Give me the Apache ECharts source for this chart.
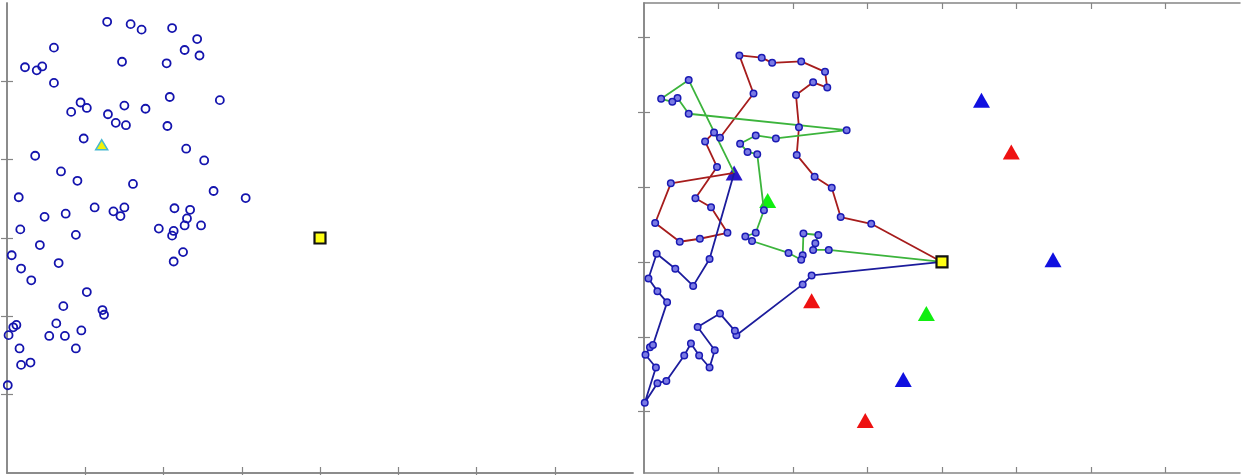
<!DOCTYPE html>
<html>
<head>
<meta charset="utf-8">
<script src="https://cdn.jsdelivr.net/npm/echarts@6/dist/echarts.min.js"></script>
<style>
  html, body { margin: 0; padding: 0; background: #ffffff; }
  #chart { width: 1242px; height: 475px; }
</style>
</head>
<body>
<div id="chart"></div>
<script>
// Depot and the common start point of the three routes
const depot = [4.0, 3.0];
const origin = [1.21, 4.19];

// Customer visits of each route, in travel order (depot -> ... -> origin)
const redRoute = [
  [3.05, 3.51], [2.64, 3.60], [2.52, 3.99], [2.29, 4.14], [2.05, 4.43],
  [2.08, 4.80], [2.04, 5.23], [2.27, 5.40], [2.46, 5.33], [2.43, 5.54],
  [2.11, 5.68], [1.72, 5.66], [1.58, 5.73], [1.28, 5.76], [1.47, 5.25],
  [1.02, 4.66], [0.94, 4.73], [0.82, 4.61], [0.98, 4.27], [0.69, 3.85],
  [0.90, 3.73], [1.12, 3.39], [0.75, 3.31], [0.48, 3.27], [0.15, 3.52],
  [0.36, 4.05]
];
const greenRoute = [
  [2.48, 3.16], [2.27, 3.16], [2.30, 3.25], [2.34, 3.36], [2.14, 3.38],
  [2.13, 3.09], [2.11, 3.03], [1.94, 3.12], [1.45, 3.28], [1.36, 3.34],
  [1.50, 3.39], [1.61, 3.69], [1.52, 4.44], [1.39, 4.47], [1.29, 4.58],
  [1.50, 4.69], [1.77, 4.65], [2.72, 4.76], [0.60, 4.98], [0.45, 5.19],
  [0.38, 5.14], [0.23, 5.18], [0.60, 5.43]
];
const blueRoute = [
  [2.25, 2.82], [2.13, 2.70], [1.24, 2.02], [1.22, 2.08], [1.02, 2.31],
  [0.72, 2.13], [0.95, 1.82], [0.88, 1.59], [0.74, 1.75], [0.63, 1.91],
  [0.54, 1.75], [0.30, 1.41], [0.18, 1.38], [0.01, 1.12], [0.16, 1.59],
  [0.02, 1.76], [0.08, 1.86], [0.12, 1.89], [0.31, 2.46], [0.18, 2.61],
  [0.06, 2.78], [0.17, 3.11], [0.42, 2.91], [0.66, 2.68], [0.88, 3.04]
];

// Target markers of each fleet
const redTargets = [[4.93, 4.47], [2.25, 2.48], [2.97, 0.88]];
const greenTargets = [[1.66, 3.82], [3.79, 2.31]];
const blueTargets = [[4.53, 5.16], [5.49, 3.03], [3.48, 1.43]];

// Axis ranges and tick positions
const xRange = [0, 8];
const yRangeLeft = [0, 6];
const yRangeRight = [0.18, 6.46];
const xTicks = [1, 2, 3, 4, 5, 6, 7];
const yTicks = [1, 2, 3, 4, 5];
const yTicksRight = [1, 2, 3, 4, 5, 6];

const customers = [].concat(redRoute, greenRoute, blueRoute);
const path = r => [depot].concat(r, [origin]);

const frame = { show: true, lineStyle: { color: '#858585', width: 1.5 } };
const tick = vals => ({ show: true, inside: true, length: 6,
  customValues: vals, lineStyle: { color: '#858585', width: 1.2 } });
const hidden = { show: false };

function xAx(grid, pos) {
  return { type: 'value', gridIndex: grid, position: pos, min: xRange[0], max: xRange[1],
    axisLine: frame, axisTick: tick(xTicks), axisLabel: hidden, splitLine: hidden };
}
function yAx(grid, pos, range, ticks) {
  return { type: 'value', gridIndex: grid, position: pos, min: range[0], max: range[1],
    axisLine: frame, axisTick: tick(ticks), axisLabel: hidden, splitLine: hidden };
}

const tri = (data, color, xi, yi) => ({
  type: 'scatter', xAxisIndex: xi, yAxisIndex: yi, data: data,
  symbol: 'triangle', symbolSize: [17, 15], z: 2,
  itemStyle: { color: color, opacity: 1 }, silent: true
});
const route = (data, color) => ({
  type: 'line', xAxisIndex: 1, yAxisIndex: 1, data: path(data),
  showSymbol: false, z: 3, animation: false,
  lineStyle: { color: color, width: 1.8 }, silent: true
});

const option = {
  animation: false,
  backgroundColor: '#ffffff',
  grid: [
    { left: 7, top: 3, width: 626, height: 470 },
    { left: 644, top: 3, width: 596, height: 470 }
  ],
  xAxis: [xAx(0, 'bottom'), xAx(1, 'bottom'), xAx(0, 'top'), xAx(1, 'top')],
  yAxis: [
    yAx(0, 'left', yRangeLeft, yTicks), yAx(1, 'left', yRangeRight, yTicksRight),
    yAx(0, 'right', yRangeLeft, yTicks), yAx(1, 'right', yRangeRight, yTicksRight)
  ],
  series: [
    // customers
    { type: 'scatter', xAxisIndex: 0, yAxisIndex: 0, data: customers, symbol: 'circle',
      symbolSize: 8, z: 3, silent: true,
      itemStyle: { color: 'rgba(0,0,0,0)', borderColor: '#1414ae', borderWidth: 1.8, opacity: 1 } },
    { type: 'scatter', xAxisIndex: 0, yAxisIndex: 0, data: [origin], symbol: 'triangle',
      symbolSize: [12, 10], z: 4, silent: true,
      itemStyle: { color: '#f2f20a', borderColor: '#46b8d0', borderWidth: 1.5, opacity: 1 } },
    { type: 'scatter', xAxisIndex: 0, yAxisIndex: 0, data: [depot], symbol: 'rect',
      symbolSize: 11, z: 4, silent: true,
      itemStyle: { color: '#ffff14', borderColor: '#111111', borderWidth: 2.2, opacity: 1 } },

    // routes
    tri(redTargets, '#ee1111', 1, 1),
    tri(greenTargets, '#11ee11', 1, 1),
    tri(blueTargets, '#1010e0', 1, 1),
    tri([origin], '#2a18c8', 1, 1),
    route(redRoute, '#a61c1c'),
    route(greenRoute, '#3cb43c'),
    route(blueRoute, '#1c1c9c'),
    { type: 'scatter', xAxisIndex: 1, yAxisIndex: 1, data: customers, symbol: 'circle',
      symbolSize: 6.5, z: 4, silent: true,
      itemStyle: { color: '#7a7ae4', borderColor: '#1a1ab4', borderWidth: 1.5, opacity: 1 } },
    { type: 'scatter', xAxisIndex: 1, yAxisIndex: 1, data: [depot], symbol: 'rect',
      symbolSize: 11, z: 5, silent: true,
      itemStyle: { color: '#ffff14', borderColor: '#111111', borderWidth: 2.2, opacity: 1 } }
  ]
};

const chart = echarts.init(document.getElementById('chart'), null, { renderer: 'canvas' });
chart.setOption(option);
</script>
</body>
</html>
